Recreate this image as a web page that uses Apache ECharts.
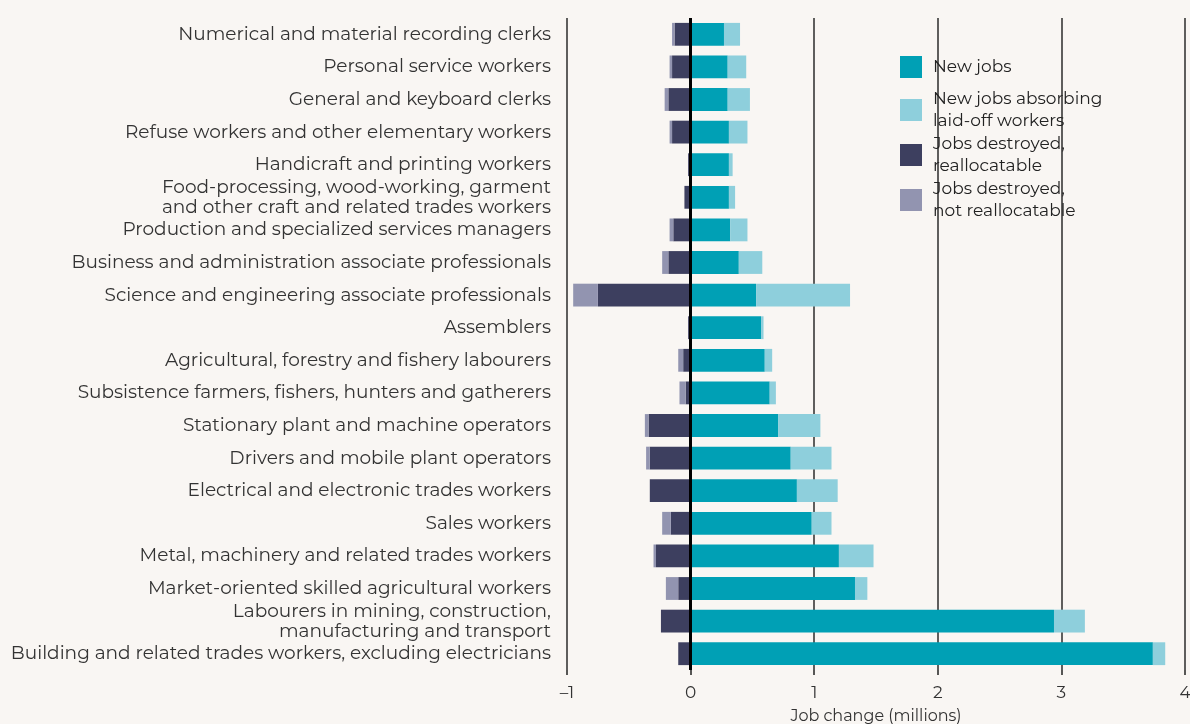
<!DOCTYPE html>
<html>
<head>
<meta charset="utf-8">
<script src="https://cdn.jsdelivr.net/npm/echarts@6/dist/echarts.min.js"></script>
<style>
  html, body { margin: 0; padding: 0; background: #f9f6f3; }
  #chart { width: 1190px; height: 724px; }
</style>
</head>
<body>
<div id="chart"></div>
<script>
// occupations, top to bottom
const categories = [
    'Numerical and material recording clerks',
    'Personal service workers',
    'General and keyboard clerks',
    'Refuse workers and other elementary workers',
    'Handicraft and printing workers',
    'Food-processing, wood-working, garment\nand other craft and related trades workers',
    'Production and specialized services managers',
    'Business and administration associate professionals',
    'Science and engineering associate professionals',
    'Assemblers',
    'Agricultural, forestry and fishery labourers',
    'Subsistence farmers, fishers, hunters and gatherers',
    'Stationary plant and machine operators',
    'Drivers and mobile plant operators',
    'Electrical and electronic trades workers',
    'Sales workers',
    'Metal, machinery and related trades workers',
    'Market-oriented skilled agricultural workers',
    'Labourers in mining, construction,\nmanufacturing and transport',
    'Building and related trades workers, excluding electricians'
];

// millions of jobs
const newJobs = [0.27, 0.30, 0.30, 0.31, 0.31, 0.31, 0.32, 0.39, 0.53, 0.57, 0.60, 0.64, 0.71, 0.81, 0.86, 0.98, 1.20, 1.33, 2.94, 3.74];
const newJobsAbsorbing = [0.13, 0.15, 0.18, 0.15, 0.03, 0.05, 0.14, 0.19, 0.76, 0.02, 0.06, 0.05, 0.34, 0.33, 0.33, 0.16, 0.28, 0.10, 0.25, 0.10];
const destroyedRealloc = [-0.13, -0.15, -0.18, -0.15, -0.02, -0.05, -0.14, -0.18, -0.75, -0.02, -0.06, -0.04, -0.34, -0.33, -0.33, -0.16, -0.28, -0.10, -0.24, -0.10];
const destroyedNotRealloc = [-0.02, -0.02, -0.03, -0.02, 0, 0, -0.03, -0.05, -0.20, 0, -0.04, -0.05, -0.03, -0.03, 0, -0.07, -0.02, -0.10, 0, 0];

const xTicks = [-1, 0, 1, 2, 3, 4];

const chart = echarts.init(document.getElementById('chart'));

const font = 'Montserrat, "Open Sans", sans-serif';
const legendText = { fontSize: 17, color: '#222', lineHeight: 22, fontFamily: font, padding: [0, 0, 0, 6] };

var option = {
    backgroundColor: '#f9f6f3',
    textStyle: { fontFamily: font },
    color: ['#00a0b5', '#8ecfdc', '#3d3f5f', '#9294b0'],
    grid: {
        left: 567,
        right: 5,
        top: 18,
        bottom: 54,
        containLabel: false,
        outerBoundsMode: 'none'
    },
    legend: [{
        data: ['New jobs'],
        orient: 'vertical',
        left: 900,
        top: 56,
        padding: 0,
        itemWidth: 22,
        itemHeight: 22,
        itemGap: 1,
        icon: 'rect',
        textStyle: legendText
    }, {
        data: ['New jobs absorbing\nlaid-off workers', 'Jobs destroyed,\nreallocatable', 'Jobs destroyed,\nnot reallocatable'],
        orient: 'vertical',
        left: 900,
        top: 88,
        padding: 0,
        itemWidth: 22,
        itemHeight: 22,
        itemGap: 1,
        icon: 'rect',
        textStyle: legendText
    }],
    xAxis: {
        type: 'value',
        min: xTicks[0],
        max: xTicks[xTicks.length - 1],
        interval: 1,
        name: 'Job change (millions)',
        nameLocation: 'middle',
        nameGap: 38,
        nameTextStyle: { fontSize: 16, color: '#333' },
        axisLine: { show: false },
        axisTick: { show: true, length: 5, lineStyle: { color: '#222', width: 1.5 } },
        axisLabel: {
            fontSize: 17,
            color: '#333',
            margin: 14,
            formatter: function (v) { return v < 0 ? '\u2013' + Math.abs(v) : String(v); }
        },
        splitLine: { show: true, lineStyle: { color: '#2b2b2b', width: 1.5 } }
    },
    yAxis: {
        type: 'category',
        data: categories,
        inverse: true,
        axisLine: { show: false, onZero: false },
        axisTick: { show: false },
        axisLabel: {
            fontSize: 18.5,
            color: '#333',
            margin: 16,
            lineHeight: 20
        }
    },
    series: [{
        name: 'New jobs',
        type: 'bar',
        stack: 'total',
        barCategoryGap: '30%',
        data: newJobs,
        markLine: {
            silent: true,
            symbol: 'none',
            label: { show: false },
            lineStyle: { color: '#000', width: 3, type: 'solid' },
            data: [{ xAxis: 0 }]
        }
    }, {
        name: 'New jobs absorbing\nlaid-off workers',
        type: 'bar',
        stack: 'total',
        data: newJobsAbsorbing
    }, {
        name: 'Jobs destroyed,\nreallocatable',
        type: 'bar',
        stack: 'total',
        data: destroyedRealloc
    }, {
        name: 'Jobs destroyed,\nnot reallocatable',
        type: 'bar',
        stack: 'total',
        data: destroyedNotRealloc
    }]
};

chart.setOption(option);
</script>
</body>
</html>
